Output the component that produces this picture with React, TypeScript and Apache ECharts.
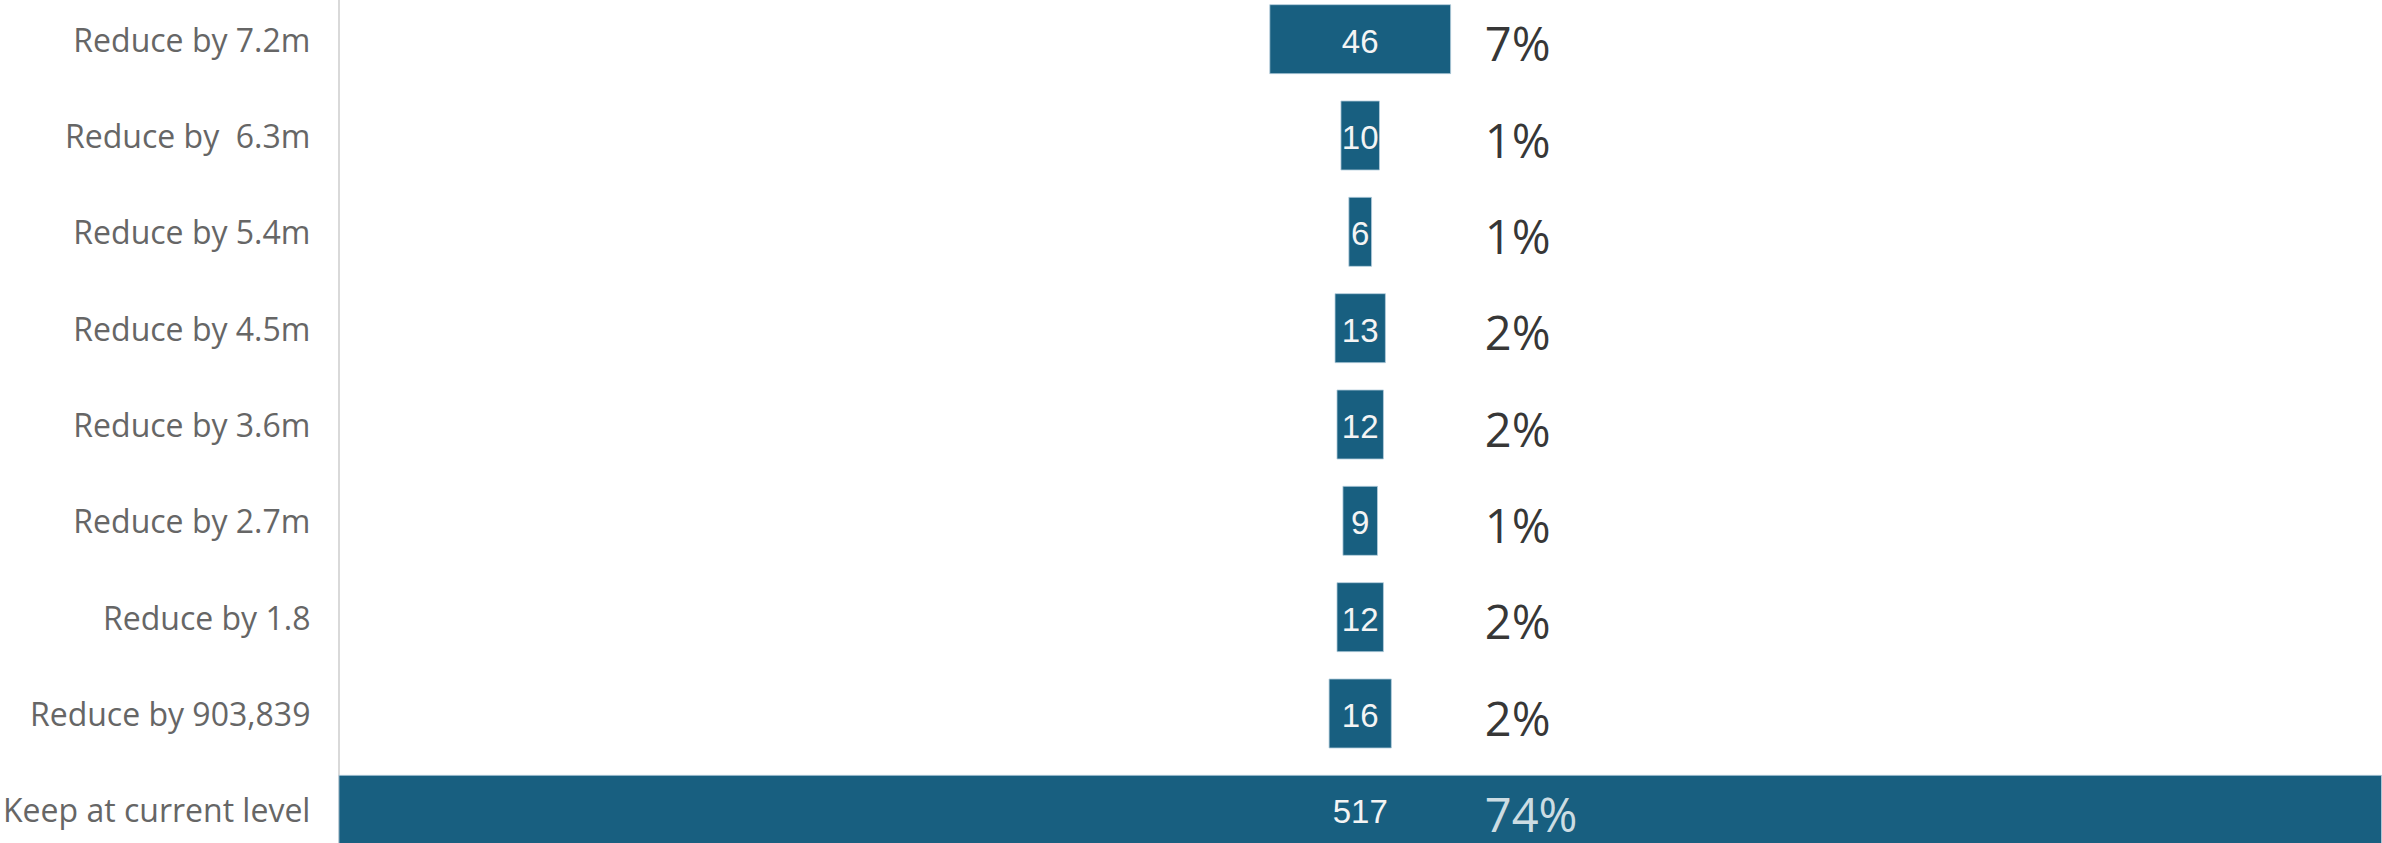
import React, { useEffect, useRef } from "react";
import * as echarts from "echarts";

const categories = [
  "Reduce by 7.2m",
  "Reduce by  6.3m",
  "Reduce by 5.4m",
  "Reduce by 4.5m",
  "Reduce by 3.6m",
  "Reduce by 2.7m",
  "Reduce by 1.8",
  "Reduce by 903,839",
  "Keep at current level",
];
const counts = [46, 10, 6, 13, 12, 9, 12, 16, 517];
const shares = ["7%", "1%", "1%", "2%", "2%", "1%", "2%", "2%", "74%"];

const BAR_COLOR = "#185f80";

export default function App() {
  const ref = useRef<HTMLDivElement>(null);

  useEffect(() => {
    if (!ref.current) return;
    const chart = echarts.init(ref.current, undefined, { renderer: "svg" });
    const maxVal = Math.max(...counts);
    const spacer = counts.map((v) => (maxVal - v) / 2);
    const pctColumn = maxVal * 0.561;

    chart.setOption({
      animation: false,
      backgroundColor: "#ffffff",
      grid: { left: 338, right: -3, top: 0, bottom: 0, containLabel: false },
      xAxis: { type: "value", min: 0, max: maxVal, show: false },
      yAxis: {
        type: "category",
        inverse: true,
        data: categories,
        axisLine: { show: true, lineStyle: { color: "#d9d9d9", width: 2 } },
        axisTick: { show: false },
        splitLine: { show: false },
        axisLabel: {
          color: "#666666",
          fontFamily: "Open Sans",
          fontSize: 32,
          margin: 28,
          padding: [4, 0, 0, 0],
        },
      },
      series: [
        {
          type: "bar",
          stack: "funnel",
          data: spacer,
          silent: true,
          itemStyle: { color: "rgba(0,0,0,0)" },
          barWidth: 70,
        },
        {
          type: "bar",
          stack: "funnel",
          data: counts,
          barWidth: 70,
          itemStyle: {
            color: BAR_COLOR,
            borderColor: "rgba(180,205,220,0.8)",
            borderWidth: 1,
          },
          label: {
            show: true,
            position: "inside",
            color: "#f4f4f4",
            fontFamily: "Liberation Sans",
            fontSize: 33,
            offset: [0, 2],
          },
        },
        {
          type: "scatter",
          symbolSize: 0,
          silent: true,
          data: shares.map((s, i) => ({
            value: [pctColumn, i],
            label: { color: i === shares.length - 1 ? "#ffffff" : "#000000" },
          })),
          label: {
            show: true,
            position: "right",
            distance: 0,
            fontFamily: "Open Sans",
            fontSize: 47,
            offset: [0, 4],
            formatter: (p: any) => shares[p.dataIndex],
          },
          z: 5,
        },
      ],
    });

    return () => chart.dispose();
  }, []);

  return (
    <div
      ref={ref}
      style={{ position: "fixed", left: 0, top: -9, width: 2382, height: 867 }}
    />
  );
}
